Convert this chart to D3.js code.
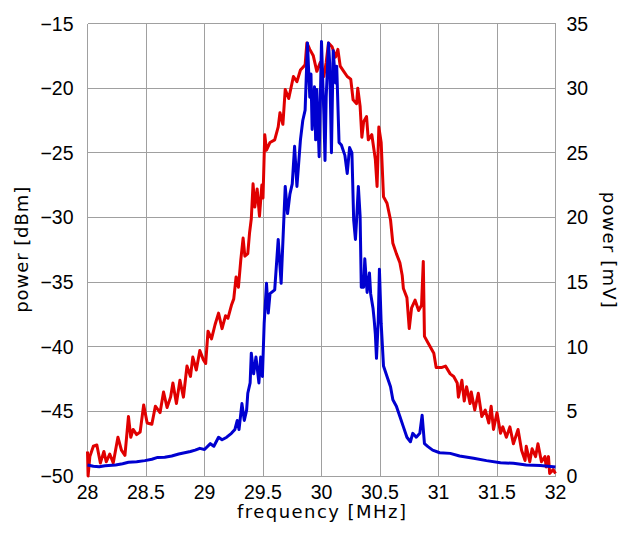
<!DOCTYPE html>
<html>
<head>
<meta charset="utf-8">
<script src="https://cdn.jsdelivr.net/npm/d3@7"></script>
<style>
  body { margin: 0; background: #fff; }
  svg { display: block; }
</style>
</head>
<body>
<div id="chart"></div>
<script>
// frequency [MHz], power [dBm] (left axis, red)
const dbmSeries = [
  [28.00, -48.1], [28.005, -50.0], [28.02, -48.5], [28.05, -47.7], [28.08, -47.6],
  [28.11, -49.0], [28.14, -48.1], [28.16, -48.9], [28.19, -48.3], [28.22, -49.0],
  [28.26, -47.0], [28.29, -48.0], [28.32, -48.4], [28.35, -45.4], [28.37, -47.0],
  [28.39, -46.4], [28.42, -46.8], [28.45, -46.6], [28.48, -44.5], [28.51, -45.9],
  [28.55, -46.0], [28.58, -44.6], [28.62, -45.1], [28.65, -43.5], [28.68, -44.7],
  [28.71, -43.9], [28.73, -42.8], [28.76, -44.4], [28.79, -42.6], [28.82, -43.9],
  [28.85, -41.5], [28.88, -42.3], [28.90, -40.8], [28.93, -41.8], [28.96, -40.3],
  [28.99, -41.0], [29.01, -41.3], [29.03, -38.8], [29.06, -39.4], [29.09, -38.3],
  [29.12, -37.4], [29.15, -38.6], [29.18, -37.6], [29.20, -37.8], [29.23, -36.8],
  [29.25, -36.3], [29.27, -34.6], [29.29, -35.4], [29.31, -33.3], [29.33, -31.6],
  [29.345, -33.0], [29.37, -32.8], [29.385, -31.2], [29.40, -30.1], [29.415, -27.4],
  [29.43, -29.2], [29.45, -27.8], [29.47, -29.9], [29.49, -27.5], [29.50, -28.5],
  [29.515, -23.6], [29.53, -24.8], [29.56, -24.2], [29.60, -24.0], [29.63, -23.0],
  [29.645, -21.9], [29.67, -22.8], [29.69, -20.1], [29.72, -20.8], [29.76, -19.1],
  [29.79, -19.5], [29.82, -18.6], [29.84, -18.4], [29.86, -18.2], [29.875, -16.5],
  [29.90, -17.0], [29.93, -17.5], [29.96, -18.7], [29.99, -18.0], [30.02, -19.1],
  [30.04, -18.0], [30.06, -16.5], [30.09, -16.8], [30.12, -17.6], [30.14, -17.0],
  [30.16, -18.3], [30.19, -18.7], [30.22, -19.1], [30.25, -19.3], [30.27, -20.9],
  [30.30, -21.2], [30.31, -20.0], [30.33, -21.4], [30.345, -23.8], [30.36, -22.6],
  [30.385, -22.2], [30.40, -24.0], [30.43, -23.6], [30.46, -25.5], [30.475, -27.6],
  [30.49, -23.0], [30.51, -24.2], [30.53, -28.4], [30.56, -28.9], [30.59, -30.2],
  [30.61, -32.0], [30.64, -32.8], [30.67, -33.5], [30.69, -34.5], [30.70, -35.5],
  [30.73, -36.2], [30.75, -38.6], [30.77, -37.0], [30.80, -36.4], [30.83, -37.2],
  [30.855, -36.8], [30.87, -33.4], [30.88, -39.2], [30.91, -39.7], [30.96, -40.5],
  [30.98, -41.6], [31.03, -41.6], [31.06, -41.5], [31.10, -42.1], [31.13, -42.3],
  [31.16, -42.8], [31.17, -43.9], [31.20, -42.6], [31.22, -44.2], [31.24, -43.1],
  [31.27, -44.4], [31.28, -43.5], [31.31, -44.9], [31.34, -43.6], [31.37, -45.4],
  [31.40, -44.9], [31.43, -45.9], [31.45, -44.6], [31.47, -46.4], [31.50, -45.1],
  [31.53, -46.7], [31.55, -46.2], [31.58, -47.0], [31.61, -46.2], [31.64, -47.5],
  [31.68, -46.4], [31.71, -48.0], [31.74, -48.8], [31.75, -47.7], [31.78, -48.9],
  [31.80, -47.9], [31.83, -48.5], [31.85, -47.5], [31.88, -48.9], [31.91, -48.5],
  [31.92, -49.3], [31.94, -48.5], [31.95, -49.8], [31.98, -49.5], [32.00, -49.8]
];

// frequency [MHz], power [mV] (right axis, blue)
const mvSeries = [
  [28.00, 0.85], [28.05, 0.75], [28.10, 0.72], [28.15, 0.80], [28.24, 0.85],
  [28.30, 0.95], [28.35, 1.06], [28.42, 1.10], [28.49, 1.19], [28.55, 1.30],
  [28.60, 1.44], [28.66, 1.45], [28.72, 1.55], [28.78, 1.70], [28.83, 1.80],
  [28.88, 1.90], [28.92, 2.00], [28.96, 2.14], [29.00, 2.05], [29.05, 2.50],
  [29.08, 2.30], [29.12, 3.00], [29.15, 2.80], [29.19, 3.00], [29.23, 3.30],
  [29.26, 3.60], [29.28, 4.30], [29.295, 3.60], [29.32, 5.60], [29.34, 4.30],
  [29.36, 5.10], [29.37, 6.40], [29.39, 7.20], [29.40, 9.50], [29.42, 7.90],
  [29.44, 9.20], [29.465, 7.20], [29.48, 9.20], [29.495, 7.70], [29.51, 11.8],
  [29.53, 14.9], [29.545, 12.6], [29.56, 14.1], [29.60, 14.4], [29.63, 18.3],
  [29.655, 14.9], [29.69, 22.4], [29.71, 20.3], [29.73, 21.8], [29.75, 22.6],
  [29.77, 25.5], [29.79, 22.4], [29.82, 26.0], [29.84, 27.5], [29.86, 28.3],
  [29.88, 33.5], [29.90, 29.3], [29.91, 31.1], [29.92, 26.8], [29.94, 30.1],
  [29.95, 26.0], [29.96, 29.9], [29.98, 24.7], [30.00, 33.6], [30.02, 28.0],
  [30.03, 24.4], [30.04, 29.3], [30.06, 33.5], [30.07, 31.9], [30.085, 25.0],
  [30.10, 32.9], [30.12, 30.4], [30.13, 31.7], [30.15, 25.8], [30.17, 25.6],
  [30.20, 24.8], [30.22, 23.4], [30.24, 25.4], [30.26, 25.0], [30.275, 19.8],
  [30.29, 18.3], [30.30, 19.8], [30.315, 22.4], [30.33, 20.1], [30.34, 14.6],
  [30.36, 14.6], [30.37, 16.8], [30.39, 14.2], [30.41, 15.7], [30.42, 14.1],
  [30.44, 13.0], [30.45, 12.1], [30.46, 11.0], [30.47, 9.1], [30.485, 12.0],
  [30.495, 16.0], [30.51, 11.8], [30.53, 8.5], [30.56, 7.7], [30.59, 6.9],
  [30.61, 5.9], [30.64, 5.4], [30.67, 4.6], [30.70, 3.8], [30.73, 3.0],
  [30.76, 2.65], [30.78, 3.3], [30.81, 3.0], [30.84, 3.3], [30.86, 4.7],
  [30.88, 2.5], [30.91, 2.27], [30.95, 2.0], [31.01, 1.8], [31.10, 1.75],
  [31.18, 1.55], [31.30, 1.37], [31.41, 1.19], [31.53, 1.03], [31.64, 0.98],
  [31.75, 0.85], [31.87, 0.82], [31.98, 0.72], [32.00, 0.70]
];

const freqTicks = [28, 28.5, 29, 29.5, 30, 30.5, 31, 31.5, 32];
const dbmTicks = [-50, -45, -40, -35, -30, -25, -20, -15];
const mvTicks = [0, 5, 10, 15, 20, 25, 30, 35];

const width = 624;
const height = 537;
const margin = { top: 23.5, right: 68.5, bottom: 61, left: 87.5 };
const font = "'Liberation Sans', Arial, sans-serif";
const titleFont = "'DejaVu Sans', sans-serif";

const svg = d3.select("#chart")
  .append("svg")
  .attr("width", width)
  .attr("height", height);

const x = d3.scaleLinear().domain([28, 32]).range([margin.left, width - margin.right]);
const yL = d3.scaleLinear().domain([-50, -15]).range([height - margin.bottom, margin.top]);
const yR = d3.scaleLinear().domain([0, 35]).range([height - margin.bottom, margin.top]);

const fmt = d3.format("");

// grid
const grid = svg.append("g")
  .attr("stroke", "#a0a0a0")
  .attr("stroke-width", 1)
  .attr("shape-rendering", "crispEdges");

grid.selectAll("line.v")
  .data(freqTicks)
  .join("line")
  .attr("class", "v")
  .attr("x1", d => x(d)).attr("x2", d => x(d))
  .attr("y1", yL(-15)).attr("y2", yL(-50));

grid.selectAll("line.h")
  .data(dbmTicks)
  .join("line")
  .attr("class", "h")
  .attr("x1", x(28)).attr("x2", x(32))
  .attr("y1", d => yL(d)).attr("y2", d => yL(d));

// tick labels
svg.append("g")
  .selectAll("text")
  .data(dbmTicks)
  .join("text")
  .attr("x", x(28) - 14)
  .attr("y", d => yL(d))
  .attr("dy", "0.36em")
  .attr("text-anchor", "end")
  .attr("font-family", font)
  .attr("font-size", 19.5)
  .attr("fill", "#000")
  .text(d => fmt(d));

svg.append("g")
  .selectAll("text")
  .data(mvTicks)
  .join("text")
  .attr("x", x(32) + 11)
  .attr("y", d => yR(d))
  .attr("dy", "0.36em")
  .attr("text-anchor", "start")
  .attr("font-family", font)
  .attr("font-size", 19.5)
  .attr("fill", "#000")
  .text(d => fmt(d));

svg.append("g")
  .selectAll("text")
  .data(freqTicks)
  .join("text")
  .attr("x", d => x(d))
  .attr("y", 498.5)
  .attr("text-anchor", "middle")
  .attr("font-family", font)
  .attr("font-size", 19.5)
  .attr("fill", "#000")
  .text(d => fmt(d));

// axis titles
svg.append("text")
  .attr("x", (x(28) + x(32)) / 2)
  .attr("y", 518)
  .attr("text-anchor", "middle")
  .attr("font-family", titleFont)
  .attr("font-size", 18)
  .attr("textLength", 169)
  .attr("lengthAdjust", "spacing")
  .text("frequency [MHz]");

svg.append("text")
  .attr("transform", `translate(28,${(yL(-15) + yL(-50)) / 2}) rotate(-90)`)
  .attr("text-anchor", "middle")
  .attr("font-family", titleFont)
  .attr("font-size", 18)
  .attr("textLength", 126)
  .attr("lengthAdjust", "spacing")
  .text("power [dBm]");

svg.append("text")
  .attr("transform", `translate(603,${(yL(-15) + yL(-50)) / 2}) rotate(90)`)
  .attr("text-anchor", "middle")
  .attr("font-family", titleFont)
  .attr("font-size", 18)
  .attr("textLength", 116)
  .attr("lengthAdjust", "spacing")
  .text("power [mV]");

// series
const lineL = d3.line().x(d => x(d[0])).y(d => yL(d[1]));
const lineR = d3.line().x(d => x(d[0])).y(d => yR(d[1]));

svg.append("path")
  .datum(dbmSeries)
  .attr("fill", "none")
  .attr("stroke", "#e00000")
  .attr("stroke-width", 3)
  .attr("stroke-linejoin", "round")
  .attr("d", lineL);

svg.append("path")
  .datum(mvSeries)
  .attr("fill", "none")
  .attr("stroke", "#0000d0")
  .attr("stroke-width", 3)
  .attr("stroke-linejoin", "round")
  .attr("d", lineR);
</script>
</body>
</html>
